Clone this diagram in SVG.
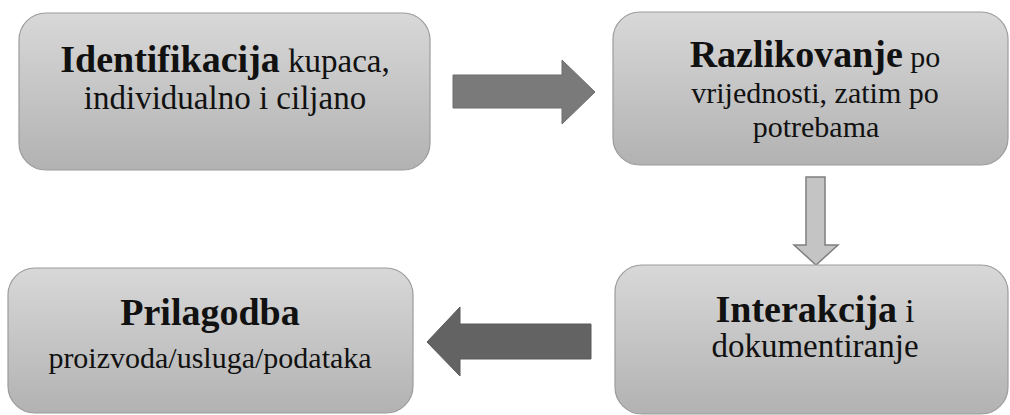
<svg xmlns="http://www.w3.org/2000/svg" width="1010" height="415" viewBox="0 0 1010 415">
<defs>
<linearGradient id="g" x1="0" y1="0" x2="0" y2="1">
<stop offset="0" stop-color="#d8d8d8"/>
<stop offset="1" stop-color="#b2b2b2"/>
</linearGradient>
<style>
.box{fill:url(#g);stroke:#9c9c9c;stroke-width:1.2}
text{font-family:"Liberation Serif","Times New Roman",serif;fill:#111;text-anchor:middle}
.b{font-weight:bold;font-size:38px}
.r33{font-size:33px}
.r30{font-size:30px}
</style>
</defs>
<rect width="1010" height="415" fill="#ffffff"/>
<g id="connectors">
<polygon points="453,75 562,75 562,60 595,92 562,124 562,108 453,108" fill="#7a7a7a" stroke="#6c6c6c" stroke-width="1"/>
<polygon points="806,177 825,177 825,245 838,245 816,265 794,245 806,245" fill="#c4c4c4" stroke="#7f7f7f" stroke-width="1.5"/>
<polygon points="591,324 460,324 460,307 427,342 460,376 460,359 591,359" fill="#636363" stroke="#5a5a5a" stroke-width="1"/>
</g>
<g id="node-identifikacija">
<rect class="box" x="19" y="13" width="411" height="157" rx="27"/>
<text x="225" y="72"><tspan class="b">Identifikacija</tspan><tspan class="r33"> kupaca,</tspan></text>
<text x="225" y="109" class="r33">individualno i ciljano</text>
</g>
<g id="node-razlikovanje">
<rect class="box" x="613" y="12" width="395" height="153" rx="27"/>
<text x="815" y="67"><tspan class="b">Razlikovanje</tspan><tspan class="r30"> po</tspan></text>
<text x="815" y="103" class="r30">vrijednosti, zatim po</text>
<text x="816" y="137" class="r30">potrebama</text>
</g>
<g id="node-interakcija">
<rect class="box" x="615" y="265" width="393" height="149" rx="27"/>
<text x="815" y="322"><tspan class="b">Interakcija</tspan><tspan class="r33"> i</tspan></text>
<text x="815" y="357" class="r33">dokumentiranje</text>
</g>
<g id="node-prilagodba">
<rect class="box" x="8" y="268" width="405" height="145" rx="27"/>
<text x="210" y="325" class="b">Prilagodba</text>
<text x="210" y="368" class="r30">proizvoda/usluga/podataka</text>
</g>
</svg>
